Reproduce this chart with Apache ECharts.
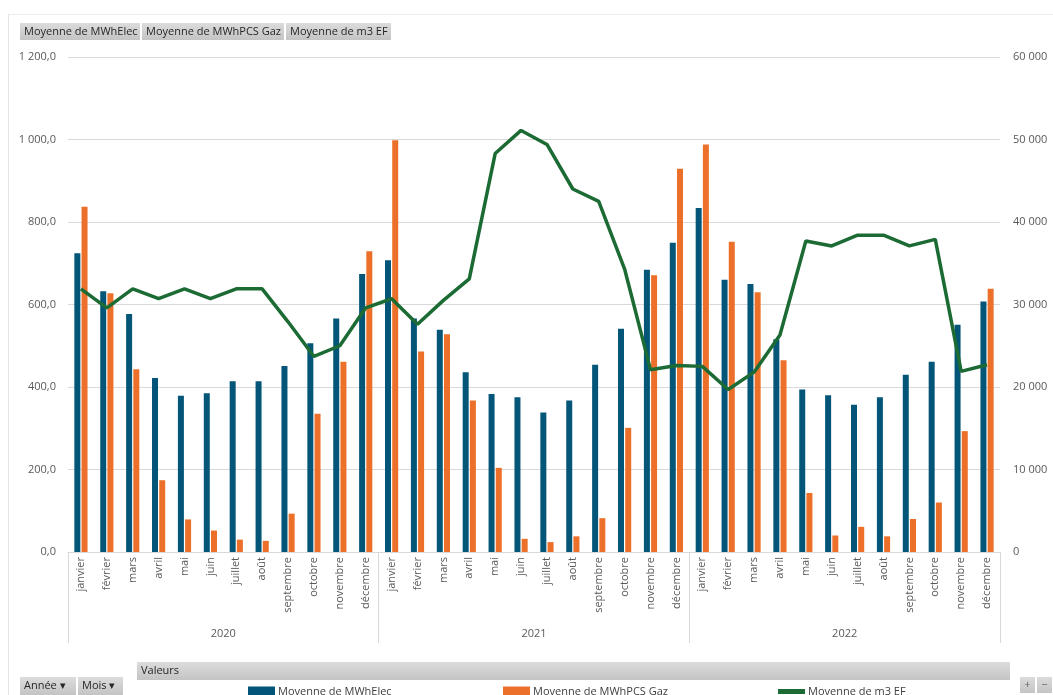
<!DOCTYPE html>
<html>
<head>
<meta charset="utf-8">
<script src="https://cdn.jsdelivr.net/npm/echarts@6/dist/echarts.min.js"></script>
<style>
  html, body { margin: 0; padding: 0; background: #fff; }
  #chart { width: 1053px; height: 695px; }
</style>
</head>
<body>
<div id="chart"></div>
<script>
var months = ["janvier","février","mars","avril","mai","juin","juillet","août","septembre","octobre","novembre","décembre"]
var years = ["2020","2021","2022"]
var categories = []
years.forEach(function (y) { months.forEach(function (m) { categories.push(m) }) })

var elec = [724,632,577,422,379,385,414,414,451,506,566,674,
            707,566,539,436,383,375,338,367,454,541,684,750,
            834,660,650,516,394,380,357,375,430,461,551,607]
var gaz = [837,627,443,174,79,52,30,27,93,335,461,729,
           998,486,528,367,204,32,24,38,82,301,671,929,
           988,752,630,465,143,40,61,38,80,120,293,638]
var m3 = [31900,29600,31900,30700,31900,30700,31900,31900,27900,23700,25000,29600,
          30700,27600,30500,33100,48300,51100,49400,44000,42500,34300,22100,22600,
          22500,19700,21800,26300,37700,37100,38400,38400,37100,37900,21900,22700]

var names = ["Moyenne de MWhElec","Moyenne de MWhPCS Gaz","Moyenne de m3 EF"]
var font = "'Open Sans', 'Liberation Sans', sans-serif"
var gridCol = "#d9d9d9"
var txtCol = "#595959"

function thousands(s) { return s.replace(/\B(?=(\d{3})+(?!\d))/g, " ") }
function fmtLeft(v) { var p = v.toFixed(1).split("."); return thousands(p[0]) + "," + p[1] }
function fmtRight(v) { return thousands(String(v)) }

function button(x, y, w, h, text, center) {
  return {
    type: "group", left: x, top: y,
    children: [
      { type: "rect", shape: { x: 0, y: 0, width: w, height: h },
        style: { fill: new echarts.graphic.LinearGradient(0, 0, 0, 1, [{offset: 0, color: "#dcdcdc"}, {offset: 1, color: "#c4c4c4"}]) } },
      { type: "text", x: center ? w / 2 : 4, y: h / 2,
        style: { text: text, font: "11px " + font, fill: center ? "#666" : "#262626", verticalAlign: "middle", align: center ? "center" : "left" } }
    ]
  }
}

function legendAt(x, name, h) {
  return { left: x, top: 686, padding: 0, itemGap: 0, itemWidth: 27, itemHeight: h, icon: "rect",
           data: [name], textStyle: { fontSize: 11, color: "#404040", padding: [0, 0, 0, -2] } }
}

var myChart = echarts.init(document.getElementById("chart"))
myChart.setOption({
  animation: false,
  textStyle: { fontFamily: font },
  grid: { left: 68, right: 53, top: 57, bottom: 143 },
  xAxis: [
    { type: "category", data: categories, position: "bottom",
      axisLine: { lineStyle: { color: gridCol } }, axisTick: { show: false },
      axisLabel: { interval: 0, rotate: 90, fontSize: 11, color: txtCol, margin: 5 } },
    { type: "category", data: years, position: "bottom",
      axisLine: { show: false },
      axisTick: { show: true, length: 91, lineStyle: { color: gridCol } },
      axisLabel: { fontSize: 11, color: txtCol, margin: 76 } }
  ],
  yAxis: [
    { type: "value", min: 0, max: 1200, interval: 200,
      axisLine: { show: false }, axisTick: { show: false },
      splitLine: { lineStyle: { color: gridCol } },
      axisLabel: { formatter: fmtLeft, fontSize: 11, color: txtCol, margin: 12 } },
    { type: "value", min: 0, max: 60000, interval: 10000,
      axisLine: { show: false }, axisTick: { show: false }, splitLine: { show: false },
      axisLabel: { formatter: fmtRight, fontSize: 11, color: txtCol, margin: 13 } }
  ],
  legend: [
    legendAt(248, names[0], 10),
    legendAt(503, names[1], 10),
    legendAt(778, names[2], 5)
  ],
  series: [
    { name: names[0], type: "bar", data: elec, barWidth: 6, barGap: "20%",
      itemStyle: { color: "#035678" } },
    { name: names[1], type: "bar", data: gaz, barWidth: 6,
      itemStyle: { color: "#ec702a" } },
    { name: names[2], type: "line", yAxisIndex: 1, data: m3, showSymbol: false, symbol: "none",
      lineStyle: { color: "#1c6b34", width: 3.5 }, itemStyle: { color: "#1c6b34" } }
  ],
  graphic: [
    { type: "line", shape: { x1: 8.5, y1: 14, x2: 8.5, y2: 695 }, style: { stroke: "#e3e3e3", lineWidth: 1 } },
    { type: "line", shape: { x1: 8, y1: 14.5, x2: 1053, y2: 14.5 }, style: { stroke: "#ececec", lineWidth: 1 } },
    button(20, 23, 120, 17, names[0]),
    button(142, 23, 142, 17, names[1]),
    button(286, 23, 105, 17, names[2]),
    button(20, 677, 56, 18, "Année ▾"),
    button(78, 677, 45, 18, "Mois ▾"),
    button(137, 662, 873, 18, "Valeurs"),
    button(1020, 677, 15, 16, "+", true),
    button(1037, 677, 15, 16, "−", true)
  ]
})
</script>
</body>
</html>
